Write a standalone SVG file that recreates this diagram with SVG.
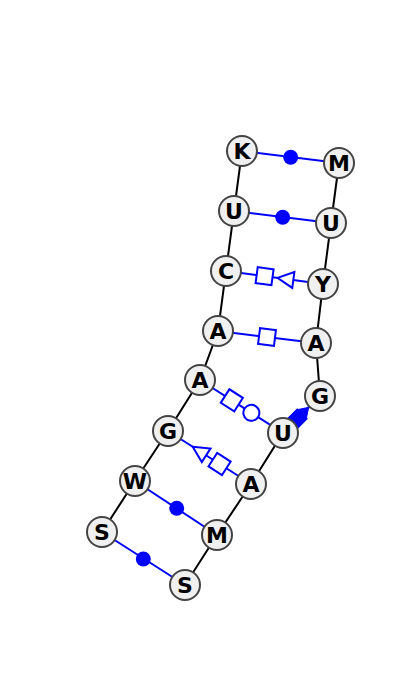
<svg xmlns="http://www.w3.org/2000/svg" width="400" height="695" viewBox="0 0 400 695">
<style>
.bb{stroke:#000;stroke-width:2;fill:none}
.bp{stroke:#0000ff;stroke-width:2;fill:none}
.sym{stroke:#0000ff;stroke-width:2;fill:#fff}
.fs{stroke:#0000ff;stroke-width:1;fill:#0000ff}
.dot{fill:#0000ff}
.n circle{fill:#f0f0f0;stroke:#444;stroke-width:2}
.n text{font-family:"DejaVu Sans",sans-serif;font-weight:bold;font-size:22px;text-anchor:middle;dominant-baseline:central;fill:#000}
</style>
<rect width="400" height="695" fill="#fff"/>
<g id="connectors">
<polyline class="bb" points="242,151 234,211 226,271 218,331 200,380 168,431 135,481 102,532"/>
<polyline class="bb" points="339,163 331,223 323,284 316,343 320,396 283,433 251,484 217,535 185,585"/>
<line class="bp" x1="242" y1="151" x2="339" y2="163"/>
<circle class="dot" cx="290.7" cy="157.3" r="7.5"/>
<line class="bp" x1="234" y1="211" x2="331" y2="223"/>
<circle class="dot" cx="282.7" cy="217.3" r="7.5"/>
<line class="bp" x1="226" y1="271" x2="323" y2="284"/>
<g transform="translate(274.5,277.5) rotate(7.6)">
<rect class="sym" x="-18" y="-8" width="16" height="16"/>
<polygon class="sym" points="3,0 19,-8 19,8"/>
</g>
<line class="bp" x1="218" y1="331" x2="316" y2="343"/>
<g transform="translate(267,337) rotate(7)">
<rect class="sym" x="-8" y="-8" width="16" height="16"/>
</g>
<line class="bp" x1="200" y1="380" x2="283" y2="433"/>
<g transform="translate(241.5,406.5) rotate(32.6)">
<rect class="sym" x="-19.5" y="-8" width="16" height="16"/>
<circle class="sym" cx="11.7" cy="0" r="8"/>
</g>
<line class="bp" x1="168" y1="431" x2="251" y2="484"/>
<g transform="translate(209.5,457.5) rotate(32.9)">
<polygon class="sym" points="-20,0 -4,-8 -4,8"/>
<rect class="sym" x="4" y="-8" width="16" height="16"/>
</g>
<line class="bp" x1="283" y1="433" x2="320" y2="396"/>
<g transform="translate(301.5,414.5) rotate(-45)">
<rect class="fs" x="-12" y="-7" width="13" height="14"/>
<polygon class="fs" points="1,-6 1,6 10,0"/>
</g>
<line class="bp" x1="135" y1="481" x2="217" y2="535"/>
<circle class="dot" cx="176.7" cy="508.3" r="7.5"/>
<line class="bp" x1="102" y1="532" x2="185" y2="585"/>
<circle class="dot" cx="143.3" cy="559" r="7.5"/>
</g>
<g id="n1" class="n"><circle cx="242" cy="151" r="15"/><text x="242" y="151">K</text></g>
<g id="n2" class="n"><circle cx="234" cy="211" r="15"/><text x="234" y="211">U</text></g>
<g id="n3" class="n"><circle cx="226" cy="271" r="15"/><text x="226" y="271">C</text></g>
<g id="n4" class="n"><circle cx="218" cy="331" r="15"/><text x="218" y="331">A</text></g>
<g id="n5" class="n"><circle cx="200" cy="380" r="15"/><text x="200" y="380">A</text></g>
<g id="n6" class="n"><circle cx="168" cy="431" r="15"/><text x="168" y="431">G</text></g>
<g id="n7" class="n"><circle cx="135" cy="481" r="15"/><text x="135" y="481">W</text></g>
<g id="n8" class="n"><circle cx="102" cy="532" r="15"/><text x="102" y="532">S</text></g>
<g id="n9" class="n"><circle cx="185" cy="585" r="15"/><text x="185" y="585">S</text></g>
<g id="n10" class="n"><circle cx="217" cy="535" r="15"/><text x="217" y="535">M</text></g>
<g id="n11" class="n"><circle cx="251" cy="484" r="15"/><text x="251" y="484">A</text></g>
<g id="n12" class="n"><circle cx="283" cy="433" r="15"/><text x="283" y="433">U</text></g>
<g id="n13" class="n"><circle cx="320" cy="396" r="15"/><text x="320" y="396">G</text></g>
<g id="n14" class="n"><circle cx="316" cy="343" r="15"/><text x="316" y="343">A</text></g>
<g id="n15" class="n"><circle cx="323" cy="284" r="15"/><text x="323" y="284">Y</text></g>
<g id="n16" class="n"><circle cx="331" cy="223" r="15"/><text x="331" y="223">U</text></g>
<g id="n17" class="n"><circle cx="339" cy="163" r="15"/><text x="339" y="163">M</text></g>
</svg>
